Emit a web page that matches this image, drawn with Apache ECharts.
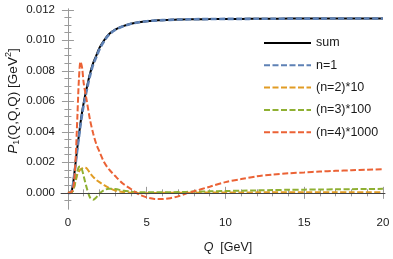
<!DOCTYPE html>
<html>
<head>
<meta charset="utf-8">
<script src="https://cdn.jsdelivr.net/npm/echarts@6/dist/echarts.min.js"></script>
<style>html,body{margin:0;padding:0;background:#fff}#c{width:393px;height:259px}</style>
</head>
<body>
<div id="c"></div>
<script>
const Q = [0, 0.1, 0.2, 0.3, 0.4, 0.5, 0.6, 0.7, 0.8, 0.9, 1.0, 1.2, 1.4, 1.6, 1.8, 2.0, 2.3, 2.6, 3.0, 3.5, 4.0, 4.5, 5.0, 5.5, 6.0, 6.5, 7.0, 7.5, 8.0, 9, 10, 11, 12, 13, 14, 15, 16, 17, 18, 19, 20];
const sumVals = [0, 0, 0.00003, 0.0004, 0.0012, 0.0021, 0.0030, 0.0038, 0.0046, 0.0053, 0.0059, 0.0069, 0.0078, 0.0085, 0.0090, 0.0095, 0.0100, 0.0104, 0.0107, 0.01093, 0.01108, 0.01118, 0.01125, 0.01129, 0.01132, 0.01134, 0.01136, 0.01137, 0.01138, 0.01139, 0.0114, 0.0114, 0.01141, 0.01141, 0.01142, 0.01142, 0.01142, 0.01143, 0.01143, 0.01143, 0.01143];
const n1Vals = [0, 0, 0.00002, 0.00038, 0.00115, 0.0020, 0.00288, 0.00366, 0.00445, 0.00515, 0.00575, 0.00675, 0.00767, 0.0084, 0.0089, 0.0094, 0.00995, 0.01036, 0.01068, 0.01092, 0.01108, 0.01118, 0.01125, 0.01129, 0.01132, 0.01134, 0.01136, 0.01137, 0.01138, 0.01139, 0.0114, 0.0114, 0.01141, 0.01141, 0.01142, 0.01142, 0.01142, 0.01143, 0.01143, 0.01143, 0.01143];
const n2x10Vals = [0, 0, 0.00002, 0.0001, 0.0004, 0.0008, 0.0012, 0.0014, 0.00155, 0.0016, 0.00165, 0.0016, 0.0013, 0.00105, 0.00085, 0.0007, 0.0005, 0.00033, 0.00015, 0.00005, 0.0, -0.00002, -0.00002, -0.00001, 0, 0, 0.00001, 0.00001, 0.00001, 0.00002, 0.00002, 0.00002, 0.00003, 0.00003, 0.00003, 0.00003, 0.00003, 0.00004, 0.00004, 0.00004, 0.00004];
const n3x100Vals = [0, 0, 0.00002, 0.0001, 0.0004, 0.0009, 0.0014, 0.0017, 0.00172, 0.0015, 0.0011, 0.0003, -0.0003, -0.00045, -0.0003, -0.00005, 0.00018, 0.00027, 0.00025, 0.00015, 0.00008, 0.00004, 0.00003, 0.00003, 0.00003, 0.00004, 0.00005, 0.00006, 0.00008, 0.0001, 0.00012, 0.00014, 0.00016, 0.00018, 0.0002, 0.00021, 0.00022, 0.00023, 0.00024, 0.00025, 0.00026];
const n4x1000Vals = [0, 0, 0.00003, 0.0002, 0.0008, 0.0025, 0.005, 0.0075, 0.0086, 0.0082, 0.0072, 0.006, 0.0048, 0.0039, 0.0032, 0.0027, 0.002, 0.00155, 0.0011, 0.0006, 0.00025, -0.0001, -0.0003, -0.0004, -0.00041, -0.00035, -0.00023, -0.00005, 0.0001, 0.0004, 0.0007, 0.0009, 0.00108, 0.0012, 0.00128, 0.00134, 0.0014, 0.00144, 0.00148, 0.00152, 0.00155];
const seriesNames = ['sum', 'n=1', '(n=2)*10', '(n=3)*100', '(n=4)*1000'];
const xMajorTicks = [0, 5, 10, 15, 20];
const xMinorTicks = [1, 2, 3, 4, 6, 7, 8, 9, 11, 12, 13, 14, 16, 17, 18, 19];
const yMajorTicks = [0, 0.002, 0.004, 0.006, 0.008, 0.010, 0.012];
const yMinorTicks = [-0.0005, 0.0005, 0.001, 0.0015, 0.0025, 0.003, 0.0035, 0.0045, 0.005, 0.0055, 0.0065, 0.007, 0.0075, 0.0085, 0.009, 0.0095, 0.0105, 0.011, 0.0115];

const FONT = 'Liberation Sans, Arial, sans-serif';
const FRAME = '#9a9a9a';
const XMIN = -0.44, XMAX = 20.13, YMIN = -0.00106, YMAX = 0.01205;

function pairs(vals) { return Q.map((q, i) => [q, vals[i]]); }

function xAx(pos, ticks, len, labels, line) {
  return {
    type: 'value', position: pos, min: XMIN, max: XMAX,
    axisLine: { show: line, lineStyle: { color: FRAME, width: 1 } },
    axisTick: { show: true, inside: true, length: len, customValues: ticks, lineStyle: { color: FRAME, width: 1 } },
    axisLabel: labels ? { show: true, customValues: ticks, margin: 8, color: '#1a1a1a', fontSize: 11.5, fontFamily: FONT } : { show: false },
    splitLine: { show: false }
  };
}
function yAx(pos, ticks, len, labels, line) {
  return {
    type: 'value', position: pos, min: YMIN, max: YMAX,
    axisLine: { show: line, lineStyle: { color: FRAME, width: 1 } },
    axisTick: { show: true, inside: true, length: len, customValues: ticks, lineStyle: { color: FRAME, width: 1 } },
    axisLabel: labels ? { show: true, customValues: ticks, margin: 6, color: '#1a1a1a', fontSize: 11.5, fontFamily: FONT, formatter: v => v.toFixed(3) } : { show: false },
    splitLine: { show: false }
  };
}

const chart = echarts.init(document.getElementById('c'), null, { renderer: 'canvas' });
const colors = ['#000000', '#5E81B5', '#E19C24', '#8FB032', '#EB6235'];
const vals = [sumVals, n1Vals, n2x10Vals, n3x100Vals, n4x1000Vals];

const series = vals.map((v, i) => ({
  name: seriesNames[i], type: 'line', xAxisIndex: 0, yAxisIndex: 0,
  data: pairs(v), symbol: 'none', showSymbol: false, smooth: 0.3,
  silent: true, animation: false,
  itemStyle: { color: colors[i] },
  lineStyle: i === 0 ? { color: colors[i], width: 2, type: 'solid' } : { color: colors[i], width: i === 1 ? 2.6 : 2, type: [6, 2.5] },
  markLine: i === 0 ? {
    silent: true, symbol: 'none', label: { show: false },
    lineStyle: { color: '#444', width: 1, type: 'solid' },
    data: [{ yAxis: 0 }], animation: false
  } : undefined
}));

chart.setOption({
  animation: false,
  grid: { left: 61, right: 8, top: 9, bottom: 50 },
  xAxis: [
    xAx('bottom', xMajorTicks, 6, true, true),
    xAx('bottom', xMinorTicks, 3.5, false, false),
    xAx('top', xMajorTicks, 6, false, true),
    xAx('top', xMinorTicks, 3.5, false, false)
  ],
  yAxis: [
    yAx('left', yMajorTicks, 6, true, true),
    yAx('left', yMinorTicks, 3.5, false, false),
    yAx('right', yMajorTicks, 6, false, true),
    yAx('right', yMinorTicks, 3.5, false, false)
  ],
  legend: {
    orient: 'vertical', left: 263, top: 36, padding: 0, itemWidth: 47, itemHeight: 14, itemGap: 8.3,
    selectedMode: false,
    itemStyle: { opacity: 0 },
    data: seriesNames,
    textStyle: { fontSize: 12.5, fontFamily: FONT, color: '#1a1a1a', lineHeight: 14 }
  },
  graphic: [
    {
      type: 'text', x: 13, y: 101, rotation: Math.PI / 2,
      style: {
        text: '{i|P}{sub|1}{n|(Q,Q,Q) [GeV}{sup|2}{n|]}',
        align: 'center', verticalAlign: 'middle', fill: '#1a1a1a',
        font: '13.5px ' + FONT,
        rich: {
          i: { fontStyle: 'italic', fontSize: 13.5, fontFamily: FONT, lineHeight: 17, verticalAlign: 'middle' },
          n: { fontSize: 13.5, fontFamily: FONT, lineHeight: 17, verticalAlign: 'middle' },
          sub: { fontSize: 9, fontFamily: FONT, lineHeight: 10, verticalAlign: 'bottom' },
          sup: { fontSize: 9, fontFamily: FONT, lineHeight: 10, verticalAlign: 'top' }
        }
      }
    },
    {
      type: 'text', x: 228, y: 248,
      style: {
        text: '{i|Q}{n|  [GeV]}',
        align: 'center', verticalAlign: 'middle', fill: '#1a1a1a',
        font: '12.5px ' + FONT,
        rich: {
          i: { fontStyle: 'italic', fontSize: 12.5, fontFamily: FONT },
          n: { fontSize: 12.5, fontFamily: FONT }
        }
      }
    }
  ],
  series: series
});
</script>
</body>
</html>
